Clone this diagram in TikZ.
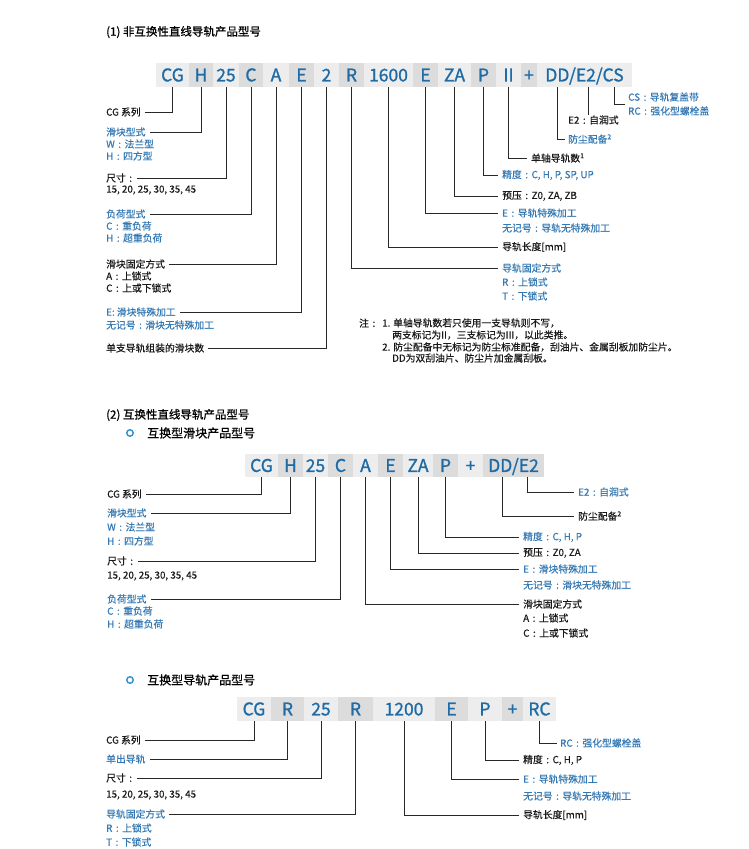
\documentclass[tikz,border=0pt]{standalone}
\usepackage{fontspec}
\setmainfont{Noto Sans CJK SC}
\newfontfamily\codefont{Noto Sans CJK SC}[FakeBold=1.2]
\newfontfamily\lbfont{Noto Sans CJK SC}[FakeBold=0.35]
\newfontfamily\hdfont{Noto Sans CJK SC}[FakeBold=0.8]
\newcommand\cln{\makebox[1em][c]{:}}
\usetikzlibrary{positioning}
\definecolor{code-blue}{HTML}{1F6BA6}
\definecolor{note-blue}{HTML}{3479B3}
\definecolor{bullet-blue}{HTML}{2C8FD0}
\definecolor{segA}{HTML}{EDEDED}
\definecolor{segB}{HTML}{DCDCDC}
\definecolor{line-draw}{RGB}{40,40,40}

\begin{document}
\begin{tikzpicture}[
 x=1pt, y=-1pt,
 seg/.style={fill=segA, text=code-blue, inner sep=0pt, outer sep=0pt,
 minimum height=24pt, text height=12.8pt, text depth=0pt,
 font=\codefont\fontsize{17.5}{17.5}\selectfont},
 segd/.style={seg, fill=segB},
 lb/.style={anchor=west, inner sep=0pt, text=black!90, font=\lbfont\fontsize{9.8}{12}\selectfont},
 lbb/.style={lb, text=note-blue},
 hd/.style={anchor=west, inner sep=0pt, font=\hdfont\fontsize{11.5}{14}\selectfont},
 sub/.style={anchor=west, inner sep=0pt, font=\hdfont\fontsize{12}{14}\selectfont},
 dot/.style={circle, draw=bullet-blue, line width=1.4pt, inner sep=0pt, minimum size=6.5pt},
 ln/.style={draw=line-draw, line width=0.85pt},
]
 \useasboundingbox[fill=white] (0,0) rectangle (749,849);

 % (1) non-interchangeable
 \node[hd] (h1) at (106,32) {(1) 非互换性直线导轨产品型号};

 \node[seg, minimum width=33pt] (aCG) at (172.5,75) {CG};
 \node[segd, minimum width=24pt, right=0pt of aCG] (aH) {H};
 \node[seg, minimum width=26pt, right=0pt of aH] (a25) {25};
 \node[segd, minimum width=24pt, right=0pt of a25] (aC) {C};
 \node[seg, minimum width=26pt, right=0pt of aC] (aA) {A};
 \node[segd, minimum width=25pt, right=0pt of aA] (aE) {E};
 \node[seg, minimum width=25pt, right=0pt of aE] (a2) {2};
 \node[segd, minimum width=25pt, right=0pt of a2] (aR) {R};
 \node[seg, minimum width=49pt, right=0pt of aR] (aLen) {1600};
 \node[segd, minimum width=25pt, right=0pt of aLen] (aEr) {E};
 \node[seg, minimum width=33pt, right=0pt of aEr] (aZA) {ZA};
 \node[segd, minimum width=25pt, right=0pt of aZA] (aP) {P};
 \node[seg, minimum width=25pt, right=0pt of aP] (aII) {II};
 \node[segd, minimum width=16pt, right=0pt of aII] (aPl) {+};
 \node[seg, minimum width=95pt, right=0pt of aPl] (aDD) {DD/E2/CS};
 \coordinate (tDD) at ([xshift=20pt]aDD.south west);
 \coordinate (tE2) at ([xshift=51pt]aDD.south west);
 \coordinate (tCS) at ([xshift=77pt]aDD.south west);

 \node[lb] (lCG) at (106,112) {CG 系列};
 \node[lbb] (lTyp) at (106,132) {滑块型式};
 \node[lbb] (lTyp2) at (106,144) {W\cln 法兰型};
 \node[lbb] (lTyp3) at (106,156) {H\cln 四方型};
 \node[lb] (lSz) at (106,178) {尺寸\cln};
 \node[lb] (lSz2) at (106,190) {15, 20, 25, 30, 35, 45};
 \node[lbb] (lLd) at (106,214) {负荷型式};
 \node[lbb] (lLd2) at (106,226) {C\cln 重负荷};
 \node[lbb] (lLd3) at (106,238) {H\cln 超重负荷};
 \node[lb] (lFx) at (106,264) {滑块固定方式};
 \node[lb] (lFx2) at (106,276) {A\cln 上锁式};
 \node[lb] (lFx3) at (106,288) {C\cln 上或下锁式};
 \node[lbb] (lSp) at (106,312) {E: 滑块特殊加工};
 \node[lbb] (lSp2) at (106,325) {无记号\cln 滑块无特殊加工};
 \node[lb] (lNum) at (106,348) {单支导轨组装的滑块数};

 \node[lbb] (rCS) at (628,97) {CS\cln 导轨复盖带};
 \node[lbb] (rRC) at (628,111) {RC\cln 强化型螺栓盖};
 \node[lb] (rE2) at (568,120) {E2\cln 自润式};
 \node[lbb] (rDD) at (568,139) {防尘配备\textsuperscript{2}};
 \node[lb] (rII) at (531,158) {单轴导轨数\textsuperscript{1}};
 \node[lbb] (rP) at (502,175) {精度\cln C, H, P, SP, UP};
 \node[lb] (rZA) at (502,196) {预压\cln Z0, ZA, ZB};
 \node[lbb] (rE) at (502,213) {E\cln 导轨特殊加工};
 \node[lbb] (rE2b) at (502,228) {无记号\cln 导轨无特殊加工};
 \node[lb] (rLen) at (502,247) {导轨长度[mm]};
 \node[lbb] (rR) at (502,268) {导轨固定方式};
 \node[lbb] (rR2) at (502,282) {R\cln 上锁式};
 \node[lbb] (rR3) at (502,296) {T\cln 下锁式};

 \draw[ln] (aCG.south) |- ([xshift=4pt]lCG.east);
 \draw[ln] (aH.south) |- ([xshift=4pt]lTyp.east);
 \draw[ln] (a25.south) |- ([xshift=1pt]lSz.east);
 \draw[ln] (aC.south) |- ([xshift=4pt]lLd.east);
 \draw[ln] (aA.south) |- ([xshift=4pt]lFx.east);
 \draw[ln] (aE.south) |- ([xshift=4pt]lSp.east);
 \draw[ln] (a2.south) |- ([xshift=4pt]lNum.east);
 \draw[ln] (aR.south) |- ([xshift=-4pt]rR.west);
 \draw[ln] (aLen.south) |- ([xshift=-4pt]rLen.west);
 \draw[ln] (aEr.south) |- ([xshift=-4pt]rE.west);
 \draw[ln] (aZA.south) |- ([xshift=-4pt]rZA.west);
 \draw[ln] (aP.south) |- ([xshift=-4pt]rP.west);
 \draw[ln] (aII.south) |- ([xshift=-4pt]rII.west);
 \draw[ln] (tDD) |- ([xshift=-3pt]rDD.west);
 \draw[ln] (tE2) -- (tE2 |- rE2.north);
 \draw[ln] (tCS) |- ([xshift=-3pt,yshift=-7pt]rCS.west);

 % notes
 \node[lb] (nZhu) at (359,323) {注\cln};
 \node[lb] (n1) at (382,323) {1. 单轴导轨数若只使用一支导轨则不写，};
 \node[lb] (n1b) at (392,335) {两支标记为II，三支标记为III，以此类推。};
 \node[lb] (n2) at (382,347) {2. 防尘配备中无标记为防尘标准配备，刮油片、金属刮板加防尘片。};
 \node[lb] (n2b) at (392,358) {DD为双刮油片、防尘片加金属刮板。};

 % (2) interchangeable
 \node[hd] (h2) at (106,415) {(2) 互换性直线导轨产品型号};
 \node[dot] (d1) at (130,433) {};
 \node[sub] (h2a) at (147,433) {互换型滑块产品型号};

 \node[seg, minimum width=33pt, minimum height=23pt] (bCG) at (261.5,465.5) {CG};
 \node[segd, minimum width=25pt, minimum height=23pt, right=0pt of bCG] (bH) {H};
 \node[seg, minimum width=25pt, minimum height=23pt, right=0pt of bH] (b25) {25};
 \node[segd, minimum width=25pt, minimum height=23pt, right=0pt of b25] (bC) {C};
 \node[seg, minimum width=25pt, minimum height=23pt, right=0pt of bC] (bA) {A};
 \node[segd, minimum width=25pt, minimum height=23pt, right=0pt of bA] (bE) {E};
 \node[seg, minimum width=30pt, minimum height=23pt, right=0pt of bE] (bZA) {ZA};
 \node[segd, minimum width=25pt, minimum height=23pt, right=0pt of bZA] (bP) {P};
 \node[seg, minimum width=25pt, minimum height=23pt, right=0pt of bP] (bPl) {+};
 \node[segd, minimum width=61pt, minimum height=23pt, right=0pt of bPl] (bDD) {DD/E2};
 \coordinate (uDD) at ([xshift=19pt]bDD.south west);
 \coordinate (uE2) at ([xshift=44pt]bDD.south west);

 \node[lb] (mCG) at (107,494) {CG 系列};
 \node[lbb] (mTyp) at (107,513) {滑块型式};
 \node[lbb] (mTyp2) at (107,527) {W\cln 法兰型};
 \node[lbb] (mTyp3) at (107,541) {H\cln 四方型};
 \node[lb] (mSz) at (107,561) {尺寸\cln};
 \node[lb] (mSz2) at (107,576) {15, 20, 25, 30, 35, 45};
 \node[lbb] (mLd) at (107,599) {负荷型式};
 \node[lbb] (mLd2) at (107,611) {C\cln 重负荷};
 \node[lbb] (mLd3) at (107,624) {H\cln 超重负荷};

 \node[lbb] (sE2) at (578,492) {E2\cln 自润式};
 \node[lb] (sDD) at (578,516) {防尘配备\textsuperscript{2}};
 \node[lbb] (sP) at (523,537) {精度\cln C, H, P};
 \node[lb] (sZA) at (523,553) {预压\cln Z0, ZA};
 \node[lbb] (sE) at (523,569) {E\cln 滑块特殊加工};
 \node[lbb] (sE2b) at (523,585) {无记号\cln 滑块无特殊加工};
 \node[lb] (sFx) at (523,604) {滑块固定方式};
 \node[lb] (sFx2) at (523,618) {A\cln 上锁式};
 \node[lb] (sFx3) at (523,633) {C\cln 上或下锁式};

 \draw[ln] (bCG.south) |- ([xshift=4pt]mCG.east);
 \draw[ln] (bH.south) |- ([xshift=4pt]mTyp.east);
 \draw[ln] (b25.south) |- ([xshift=1pt]mSz.east);
 \draw[ln] (bC.south) |- ([xshift=4pt]mLd.east);
 \draw[ln] (bA.south) |- ([xshift=-4pt]sFx.west);
 \draw[ln] (bE.south) |- ([xshift=-4pt]sE.west);
 \draw[ln] (bZA.south) |- ([xshift=-4pt]sZA.west);
 \draw[ln] (bP.south) |- ([xshift=-4pt]sP.west);
 \draw[ln] (uDD) |- ([xshift=-4pt]sDD.west);
 \draw[ln] (uE2) |- ([xshift=-4pt]sE2.west);

 % rail
 \node[dot] (d2) at (130,680) {};
 \node[sub] (h2b) at (147,680) {互换型导轨产品型号};

 \node[seg, minimum width=34pt] (cCG) at (254,709) {CG};
 \node[segd, minimum width=33pt, right=0pt of cCG] (cR) {R};
 \node[seg, minimum width=34pt, right=0pt of cR] (c25) {25};
 \node[segd, minimum width=35pt, right=0pt of c25] (cRr) {R};
 \node[seg, minimum width=62pt, right=0pt of cRr] (cLen) {1200};
 \node[segd, minimum width=33pt, right=0pt of cLen] (cE) {E};
 \node[seg, minimum width=34pt, right=0pt of cE] (cP) {P};
 \node[segd, minimum width=21pt, right=0pt of cP] (cPl) {+};
 \node[seg, minimum width=33pt, right=0pt of cPl] (cRC) {RC};

 \node[lb] (kCG) at (106,740) {CG 系列};
 \node[lbb] (kRl) at (106,759) {单出导轨};
 \node[lb] (kSz) at (106,778) {尺寸\cln};
 \node[lb] (kSz2) at (106,795) {15, 20, 25, 30, 35, 45};
 \node[lbb] (kFx) at (106,814) {导轨固定方式};
 \node[lbb] (kFx2) at (106,828) {R\cln 上锁式};
 \node[lbb] (kFx3) at (106,842) {T\cln 下锁式};

 \node[lbb] (qRC) at (560,743) {RC\cln 强化型螺栓盖};
 \node[lb] (qP) at (523,760) {精度\cln C, H, P};
 \node[lbb] (qE) at (523,779) {E\cln 导轨特殊加工};
 \node[lbb] (qE2) at (523,796) {无记号\cln 导轨无特殊加工};
 \node[lb] (qLen) at (523,815) {导轨长度[mm]};

 \draw[ln] (cCG.south) |- ([xshift=4pt]kCG.east);
 \draw[ln] (cR.south) |- ([xshift=4pt]kRl.east);
 \draw[ln] (c25.south) |- ([xshift=1pt]kSz.east);
 \draw[ln] (cRr.south) |- ([xshift=4pt]kFx.east);
 \draw[ln] (cLen.south) |- ([xshift=-4pt]qLen.west);
 \draw[ln] (cE.south) |- ([xshift=-4pt]qE.west);
 \draw[ln] (cP.south) |- ([xshift=-4pt]qP.west);
 \draw[ln] (cRC.south) |- ([xshift=-3pt]qRC.west);
\end{tikzpicture}
\end{document}
